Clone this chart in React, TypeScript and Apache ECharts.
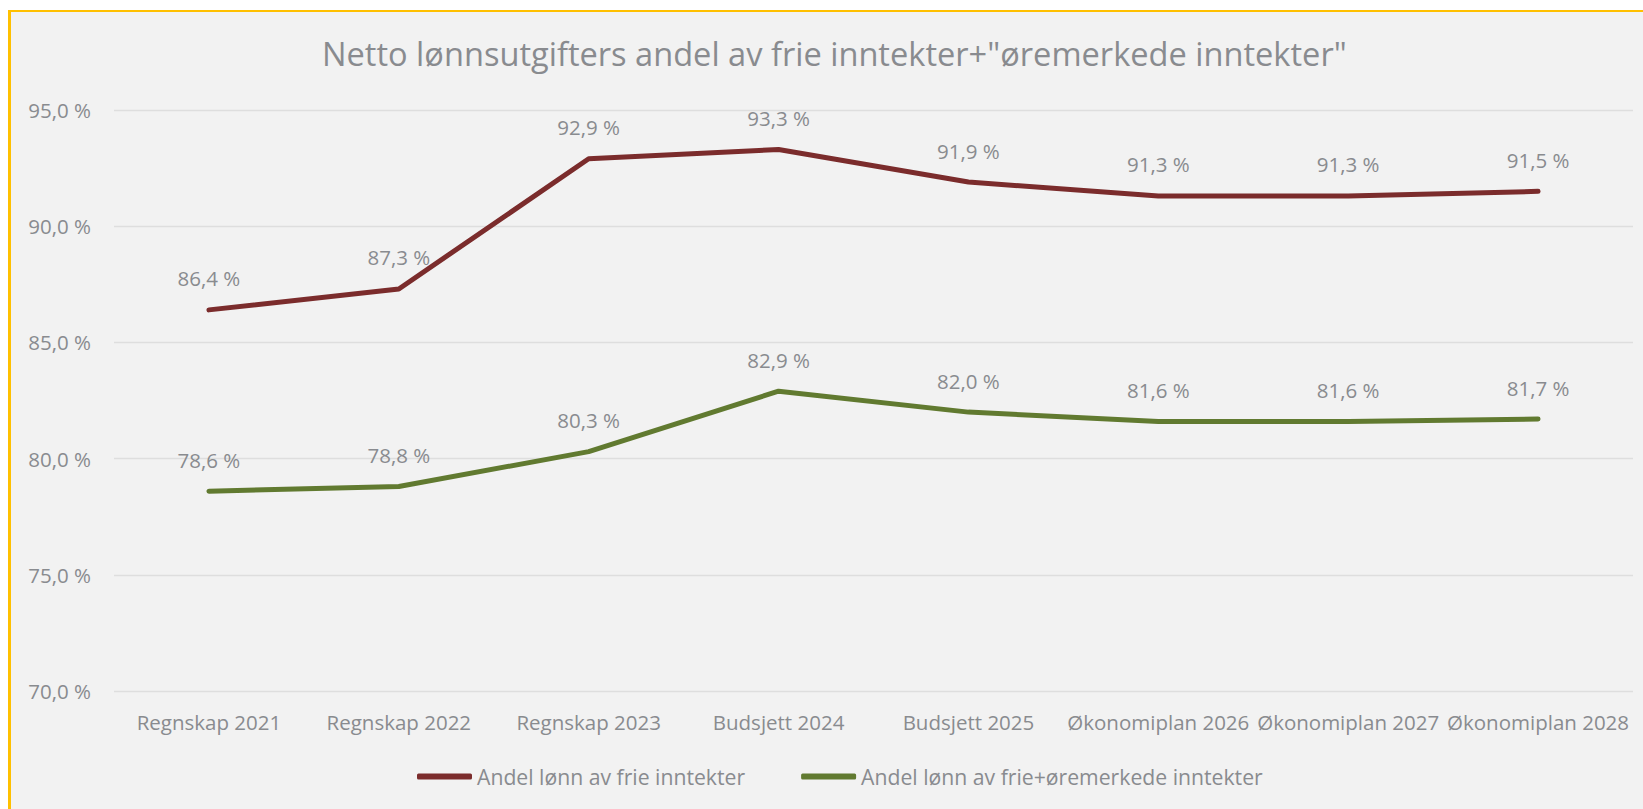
import React, { useEffect, useRef } from "react";
import * as echarts from "echarts";

const categories = [
  "Regnskap 2021",
  "Regnskap 2022",
  "Regnskap 2023",
  "Budsjett 2024",
  "Budsjett 2025",
  "Økonomiplan 2026",
  "Økonomiplan 2027",
  "Økonomiplan 2028",
];
const frieValues = [86.4, 87.3, 92.9, 93.3, 91.9, 91.3, 91.3, 91.5];
const frieOremerkedeValues = [78.6, 78.8, 80.3, 82.9, 82.0, 81.6, 81.6, 81.7];
const seriesNames = [
  "Andel lønn av frie inntekter",
  "Andel lønn av frie+øremerkede inntekter",
];
const titleText = 'Netto lønnsutgifters andel av frie inntekter+"øremerkede inntekter"';

const FONT = "'Open Sans', sans-serif";
const TEXT_COLOR = "#898B8F";
const fmt = (v: number) => v.toFixed(1).replace(".", ",") + " %";

export default function App() {
  const ref = useRef<HTMLDivElement>(null);
  useEffect(() => {
    if (!ref.current) return;
    const chart = echarts.init(ref.current, undefined, { renderer: "svg" });
    const labelStyle = {
      show: true,
      position: "top" as const,
      distance: 21,
      fontFamily: FONT,
      fontSize: 20.5,
      color: TEXT_COLOR,
      formatter: (p: any) => fmt(p.value),
    };
    chart.setOption({
      animation: false,
      backgroundColor: "#F2F2F2",
      title: {
        text: titleText,
        left: 306,
        top: 20,
        textStyle: {
          fontFamily: FONT,
          fontSize: 32.6,
          fontWeight: "normal",
          color: TEXT_COLOR,
        },
      },
      legend: {
        left: 401,
        top: 749,
        icon: "roundRect",
        itemWidth: 55,
        itemHeight: 6,
        itemGap: 56,
        textStyle: { fontFamily: FONT, fontSize: 21.2, color: TEXT_COLOR },
        data: seriesNames,
      },
      grid: { left: 103, right: 10, top: 98, bottom: 118, containLabel: false },
      xAxis: {
        type: "category",
        data: categories,
        boundaryGap: true,
        axisLine: { show: false },
        axisTick: { show: false },
        axisLabel: {
          interval: 0,
          margin: 20,
          fontFamily: FONT,
          fontSize: 20.5,
          color: TEXT_COLOR,
        },
      },
      yAxis: {
        type: "value",
        min: 70,
        max: 95,
        interval: 5,
        axisLine: { show: false },
        axisTick: { show: false },
        splitLine: { lineStyle: { color: "#DEDEDE", width: 1.3 } },
        axisLabel: {
          margin: 23,
          fontFamily: FONT,
          fontSize: 20.5,
          color: TEXT_COLOR,
          formatter: (v: number) => fmt(v),
        },
      },
      series: [
        {
          name: seriesNames[0],
          type: "line",
          data: frieValues,
          symbol: "circle",
          symbolSize: 0.01,
          showSymbol: true,
          lineStyle: { color: "#7B2C2C", width: 5, cap: "round", join: "round" },
          itemStyle: { color: "#7B2C2C" },
          label: labelStyle,
        },
        {
          name: seriesNames[1],
          type: "line",
          data: frieOremerkedeValues,
          symbol: "circle",
          symbolSize: 0.01,
          showSymbol: true,
          lineStyle: { color: "#617A30", width: 5, cap: "round", join: "round" },
          itemStyle: { color: "#617A30" },
          label: labelStyle,
        },
      ],
    });
    return () => chart.dispose();
  }, []);
  return (
    <div
      style={{
        position: "absolute",
        left: 8,
        top: 10,
        width: 1635,
        height: 799,
        boxSizing: "border-box",
        borderLeft: "3px solid #FFC000",
        borderTop: "2px solid #FFC000",
        background: "#F2F2F2",
      }}
    >
      <div ref={ref} style={{ width: 1632, height: 797 }} />
    </div>
  );
}
